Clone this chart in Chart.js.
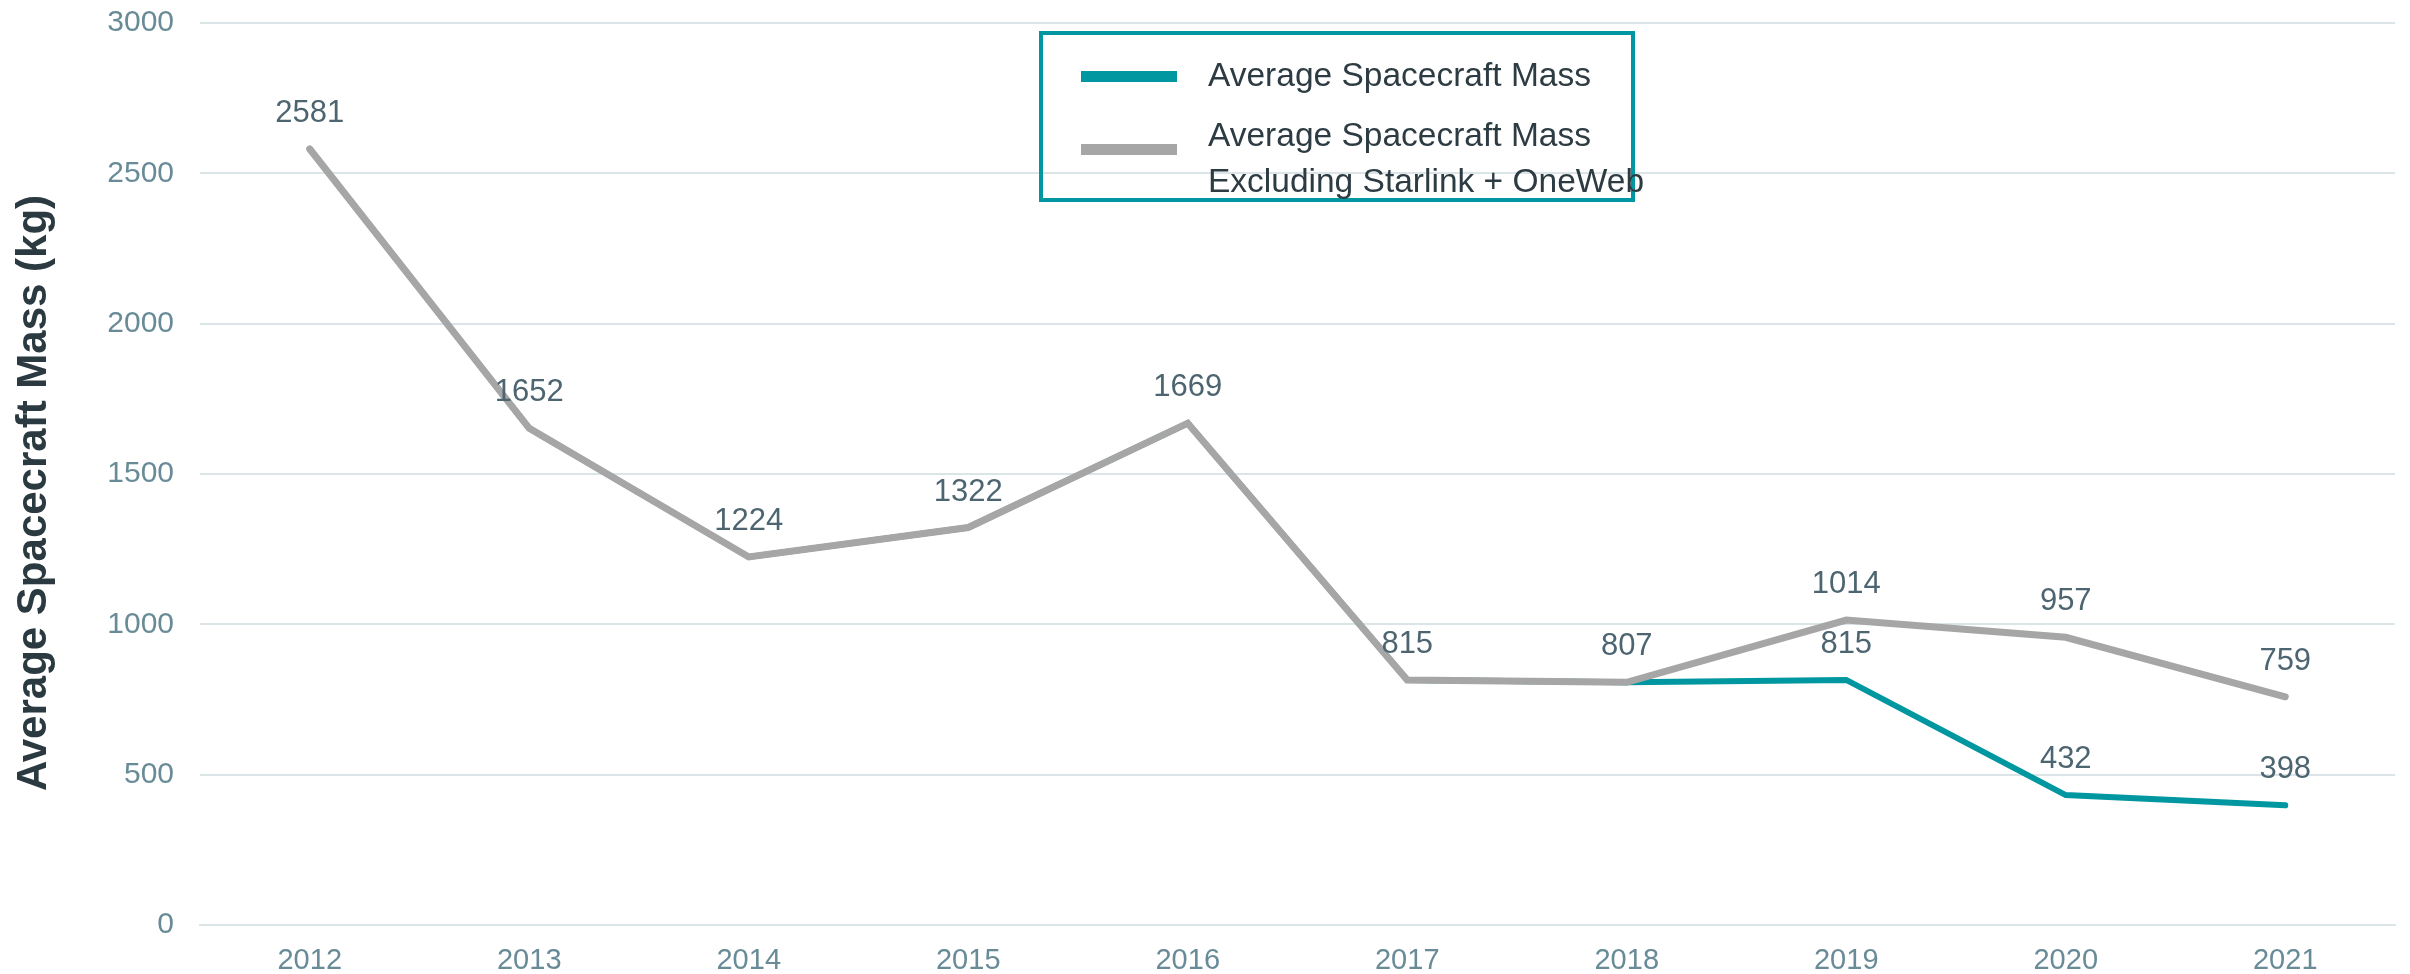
<!DOCTYPE html>
<html>
<head>
<meta charset="utf-8">
<script src="https://cdn.jsdelivr.net/npm/chart.js@4.4.1/dist/chart.umd.min.js"></script>
<style>
    html, body { margin: 0; padding: 0; background: #fff; }
    #wrap { position: relative; width: 2410px; height: 974px; }
    #legend {
        position: absolute; left: 1039px; top: 31px; width: 596px; height: 171px;
        box-sizing: border-box; border: 4px solid #0097a0; background: transparent;
        font-family: "Liberation Sans", Arial, sans-serif; font-size: 33.5px; color: #2d3b42;
    }
    .swatch { position: absolute; left: 38px; width: 96px; height: 11px; }
    .ltext { position: absolute; left: 165px; line-height: 46px; white-space: nowrap; }
</style>
</head>
<body>
<div id="wrap">
    <canvas id="massChart" width="2410" height="974"></canvas>
    <div id="legend"></div>
</div>
<script>
// 数据
const years = ['2012', '2013', '2014', '2015', '2016', '2017', '2018', '2019', '2020', '2021'];
const avgMass = [2581, 1652, 1224, 1322, 1669, 815, 807, 815, 432, 398];
const avgMassExcl = [2581, 1652, 1224, 1322, 1669, 815, 807, 1014, 957, 759];
const seriesNames = ['Average Spacecraft Mass', 'Average Spacecraft Mass\nExcluding Starlink + OneWeb'];
const seriesColors = ['#0097a0', '#a6a6a6'];
const yTicks = [0, 500, 1000, 1500, 2000, 2500, 3000];
const yTitle = 'Average Spacecraft Mass (kg)';

// 数据标签 - 画在点的上方
const pointLabels = {
    id: 'pointLabels',
    afterDatasetsDraw(chart) {
        const ctx = chart.ctx;
        ctx.save();
        ctx.font = '31px "Liberation Sans", Arial, sans-serif';
        ctx.fillStyle = '#4d6570';
        ctx.textAlign = 'center';
        ctx.textBaseline = 'alphabetic';
        chart.data.datasets.forEach((ds, i) => {
            const meta = chart.getDatasetMeta(i);
            meta.data.forEach((pt, j) => {
                // 两条线重合的年份只标一次
                if (i === 0 && ds.data[j] === chart.data.datasets[1].data[j]) return;
                ctx.fillText(String(ds.data[j]), pt.x, pt.y - 27);
            });
        });
        ctx.restore();
    }
};

// Y轴标题 - 竖排
const yTitlePlugin = {
    id: 'yTitlePlugin',
    afterDraw(chart) {
        const ctx = chart.ctx;
        ctx.save();
        ctx.translate(46, 493);
        ctx.rotate(-Math.PI / 2);
        ctx.font = 'bold 42px "Liberation Sans", Arial, sans-serif';
        ctx.fillStyle = '#2b3a40';
        ctx.textAlign = 'center';
        ctx.textBaseline = 'alphabetic';
        ctx.fillText(yTitle, 0, 0);
        ctx.restore();
    }
};

const ctx = document.getElementById('massChart').getContext('2d');
const massChart = new Chart(ctx, {
    type: 'line',
    data: {
        labels: years,
        datasets: [{
            label: seriesNames[0],
            data: avgMass,
            borderColor: seriesColors[0],
            backgroundColor: seriesColors[0],
            borderWidth: 6,
            borderCapStyle: 'round',
            pointRadius: 0,
            tension: 0,
            order: 1
        }, {
            label: seriesNames[1],
            data: avgMassExcl,
            borderColor: seriesColors[1],
            backgroundColor: seriesColors[1],
            borderWidth: 7,
            borderCapStyle: 'round',
            pointRadius: 0,
            tension: 0,
            order: 0
        }]
    },
    options: {
        responsive: false,
        animation: false,
        devicePixelRatio: 1,
        layout: {
            autoPadding: false,
            padding: { top: 23, right: 15, left: 0, bottom: 0 }
        },
        plugins: {
            legend: { display: false },
            tooltip: { enabled: false }
        },
        scales: {
            x: {
                offset: true,
                grid: { display: false, drawTicks: false },
                border: { display: true, color: '#dbe5e8', width: 2 },
                ticks: {
                    color: '#688b97',
                    padding: 19,
                    font: { family: '"Liberation Sans", Arial, sans-serif', size: 29 }
                },
                afterFit: function(scale) { scale.height = 49; }
            },
            y: {
                min: 0,
                max: 3000,
                afterBuildTicks: function(scale) {
                    scale.ticks = yTicks.map(v => ({ value: v }));
                },
                grid: { color: '#dbe5e8', lineWidth: 2, drawTicks: false },
                border: { display: false },
                ticks: {
                    color: '#688b97',
                    padding: 26,
                    font: { family: '"Liberation Sans", Arial, sans-serif', size: 30 },
                    callback: function(value) { return String(value); }
                },
                afterFit: function(scale) {
                    scale.width = 200;
                    scale.paddingTop = 0;
                    scale.paddingBottom = 0;
                }
            }
        }
    },
    plugins: [pointLabels, yTitlePlugin]
});

// 图例 - 透明方框，放在图上
const legendEl = document.getElementById('legend');
const rows = [
    { swatchTop: 36, textTop: 17 },
    { swatchTop: 109, textTop: 77 }
];
seriesNames.forEach((name, i) => {
    const sw = document.createElement('div');
    sw.className = 'swatch';
    sw.style.top = rows[i].swatchTop + 'px';
    sw.style.background = seriesColors[i];
    legendEl.appendChild(sw);
    const tx = document.createElement('div');
    tx.className = 'ltext';
    tx.style.top = rows[i].textTop + 'px';
    tx.innerHTML = name.split('\n').join('<br>');
    legendEl.appendChild(tx);
});
</script>
</body>
</html>
